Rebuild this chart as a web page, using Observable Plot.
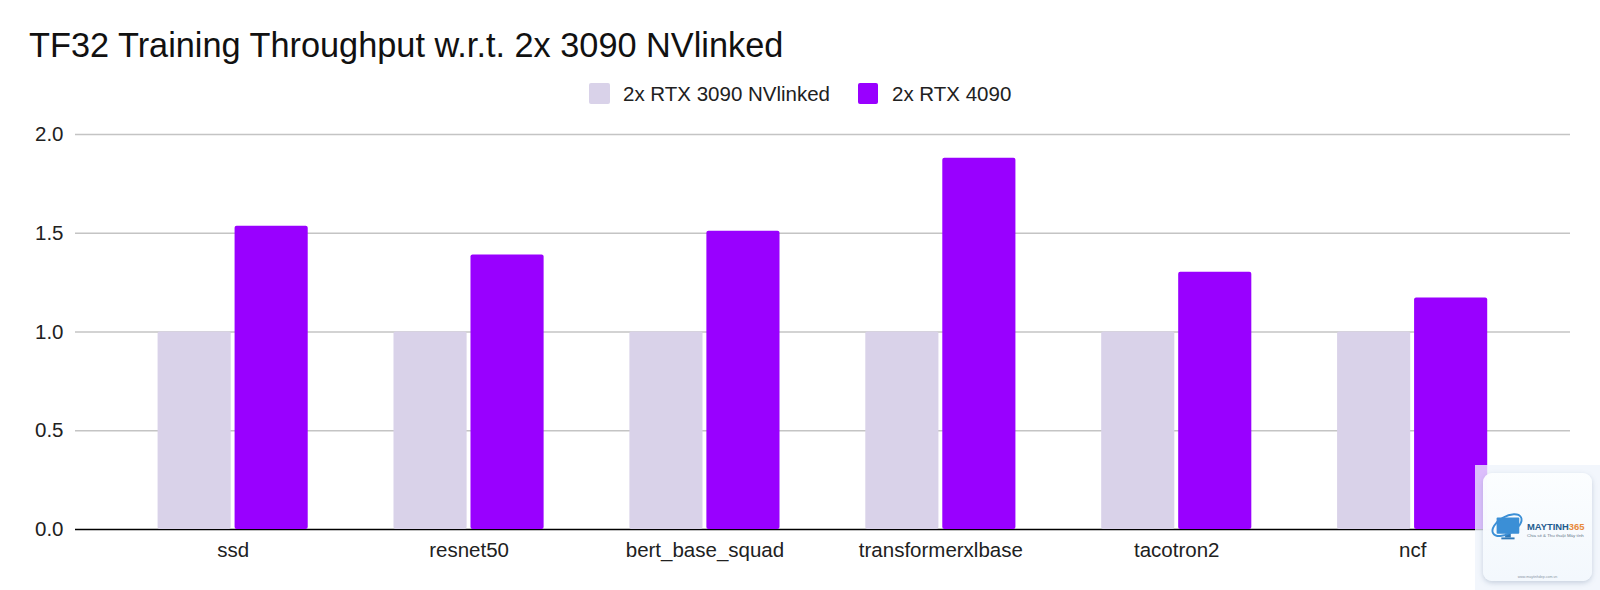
<!DOCTYPE html>
<html>
<head>
<meta charset="utf-8">
<script src="https://cdn.jsdelivr.net/npm/d3@7"></script>
<script src="https://cdn.jsdelivr.net/npm/@observablehq/plot@0.6"></script>
<style>
  html, body { margin: 0; padding: 0; background: #fff; }
  body { width: 1600px; height: 590px; overflow: hidden; position: relative; font-family: "Liberation Sans", Arial, sans-serif; color: #212121; }
  #title { height: 72px; padding-left: 29px; box-sizing: border-box; font-size: 34.3px; line-height: 91px; color: #111; white-space: nowrap; }
  #legend { height: 43px; position: relative; font-size: 20.5px; }
  #legend i { position: absolute; top: 11px; width: 20.5px; height: 20.5px; border-radius: 2px; }
  #legend span { position: absolute; top: 9.5px; line-height: 24px; white-space: nowrap; }
  #chart svg { display: block; }
  #mark { position: absolute; left: 1475px; top: 465px; width: 125px; height: 125px; background: rgba(238,244,251,0.78); }
  #card { position: absolute; left: 8px; top: 8px; width: 109px; height: 108px; border-radius: 9px; background: linear-gradient(180deg, rgba(252,254,255,0.96), rgba(243,248,253,0.96)); box-shadow: 0 2px 5px rgba(120,140,170,0.35); }
  #card svg { position: absolute; left: 7px; top: 37px; }
  #brand { position: absolute; left: 44px; top: 48px; font-size: 9.4px; font-weight: bold; color: #1f5c8f; white-space: nowrap; }
  #brand b { color: #e8893a; }
  #sub { position: absolute; left: 44px; top: 60px; font-size: 4.4px; color: #66788c; white-space: nowrap; }
  #url { position: absolute; left: 0; width: 109px; top: 102px; text-align: center; font-size: 3.6px; color: #8b97a5; }
</style>
</head>
<body>
<div id="title"></div>
<div id="legend"></div>
<div id="chart"></div>
<div id="mark">
  <div id="card">
    <svg width="34" height="36" viewBox="0 0 36 36">
      <rect x="7" y="7" width="24" height="17" rx="1" fill="#3b8fd6"/>
      <rect x="16" y="24" width="6" height="4" fill="#2f78b8"/>
      <rect x="12" y="28" width="14" height="2" fill="#2f78b8"/>
      <ellipse cx="18" cy="15" rx="17" ry="9" transform="rotate(-30 18 15)" fill="none" stroke="#3b8fd6" stroke-width="2"/>
    </svg>
    <div id="brand">MAYTINH<b>365</b></div>
    <div id="sub">Chia sẻ &amp; Thủ thuật Máy tính</div>
    <div id="url">www.maytinhdep.com.vn</div>
  </div>
</div>
<script>
const chartTitle = "TF32 Training Throughput w.r.t. 2x 3090 NVlinked";
const categories = ["ssd", "resnet50", "bert_base_squad", "transformerxlbase", "tacotron2", "ncf"];
const seriesNames = ["2x RTX 3090 NVlinked", "2x RTX 4090"];
const rtx3090 = [1, 1, 1, 1, 1, 1];
const rtx4090 = [1.535, 1.39, 1.51, 1.88, 1.302, 1.172];
const yTicks = [0, 0.5, 1, 1.5, 2];
const colors = ["#d9d2e9", "#9900ff"];

document.getElementById("title").textContent = chartTitle;

const legend = document.getElementById("legend");
[[589, 623], [857.5, 892]].forEach(([sx, tx], i) => {
  const sw = document.createElement("i");
  sw.style.left = sx + "px";
  sw.style.background = colors[i];
  const tl = document.createElement("span");
  tl.style.left = tx + "px";
  tl.textContent = seriesNames[i];
  legend.append(sw, tl);
});

const rows3090 = categories.map((c, i) => ({category: c, value: rtx3090[i]}));
const rows4090 = categories.map((c, i) => ({category: c, value: rtx4090[i]}));

const plot = Plot.plot({
  width: 1600,
  height: 475,
  marginLeft: 75,
  marginRight: 30,
  marginTop: 19,
  marginBottom: 61,
  style: {fontFamily: "Liberation Sans, Arial, sans-serif", fontSize: "20.5px", color: "#212121", background: "transparent"},
  x: {domain: categories, range: [114.7, 1530.1], paddingInner: 0.69, paddingOuter: 0.345, round: false, label: null},
  y: {domain: [0, 2], label: null},
  marks: [
    Plot.ruleY(yTicks.filter(d => d > 0), {stroke: "#c4c4c4", strokeWidth: 1.5}),
    Plot.ruleY([0], {stroke: "#000", strokeWidth: 1.5}),
    Plot.barY(rows3090, {x: "category", y: "value", fill: colors[0], dx: -38.5, rx: 2}),
    Plot.barY(rows4090, {x: "category", y: "value", fill: colors[1], dx: 38.5, rx: 2}),
    Plot.axisY({ticks: yTicks, tickSize: 0, tickPadding: 12, tickFormat: d3.format(".1f"), label: null, fontSize: 20.5}),
    Plot.axisX({tickSize: 0, tickPadding: 13, label: null, fontSize: 20.5})
  ]
});
document.getElementById("chart").append(plot);
</script>
</body>
</html>
